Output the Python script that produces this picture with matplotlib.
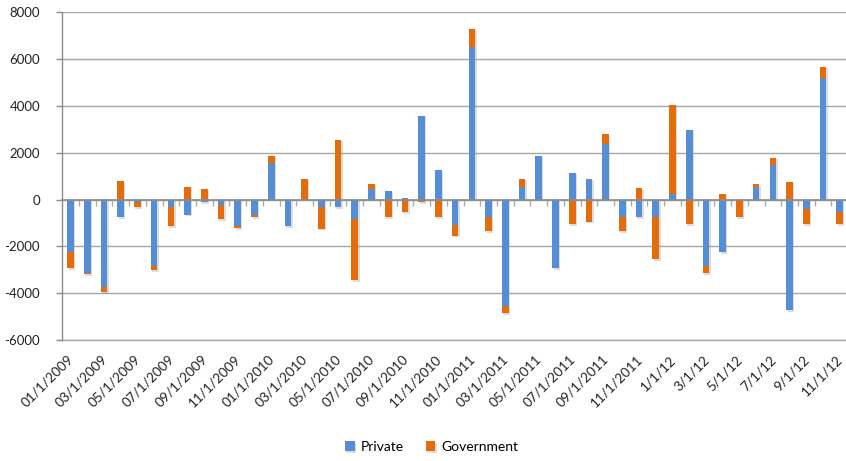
import numpy as np
import matplotlib
matplotlib.use("Agg")
import matplotlib.pyplot as plt
from matplotlib import patheffects as pe

plt.rcParams['font.family'] = ['Lato', 'DejaVu Sans']

# Monthly change by sector
months = [
    "01/1/2009", "02/1/2009", "03/1/2009", "04/1/2009", "05/1/2009", "06/1/2009",
    "07/1/2009", "08/1/2009", "09/1/2009", "10/1/2009", "11/1/2009", "12/1/2009",
    "01/1/2010", "02/1/2010", "03/1/2010", "04/1/2010", "05/1/2010", "06/1/2010",
    "07/1/2010", "08/1/2010", "09/1/2010", "10/1/2010", "11/1/2010", "12/1/2010",
    "01/1/2011", "02/1/2011", "03/1/2011", "04/1/2011", "05/1/2011", "06/1/2011",
    "07/1/2011", "08/1/2011", "09/1/2011", "10/1/2011", "11/1/2011", "12/1/2011",
    "1/1/12", "2/1/12", "3/1/12", "4/1/12", "5/1/12", "6/1/12",
    "7/1/12", "8/1/12", "9/1/12", "10/1/12", "11/1/12",
]

private = [
    -2247, -3144, -3741, -754, -115, -2845, -327, -640, -115, -228, -1124, -669,
    1565, -1124, 0, -327, -327, -825, 469, 356, 70, 3585, 1266, -1067,
    6501, -754, -4566, 541, 1878, -2945, 1152, 896, 2390, -754, -754, -754,
    256, 2987, -2845, -2262, 0, 541, 1465, -4737, -413, 5192, -526,
]

government = [
    -697, -30, -228, 782, -213, -185, -797, 555, 470, -597, -100, -85,
    313, 0, 896, -910, 2560, -2632, 213, -740, -525, -115, -754, -469,
    782, -597, -284, 356, 0, 0, -1053, -939, 398, -597, 484, -1792,
    3800, -1053, -299, 256, -754, 128, 327, 768, -640, 484, -526,
]

y_ticks = [-6000, -4000, -2000, 0, 2000, 4000, 6000, 8000]

BLUE = "#558ED5"
ORANGE = "#E46C0A"
GRID = "#A6A6A6"
AXIS = "#8C8C8C"

priv = np.array(private, dtype=float)
gov = np.array(government, dtype=float)
x = np.arange(len(months))

# positive values stack upward from zero, negatives downward (spreadsheet style)
gov_bottom = np.where(priv * gov > 0, priv, 0.0)

fig = plt.figure(figsize=(8.46, 4.61), dpi=100)
ax = fig.add_axes([0.0735, 0.2625, 0.929, 0.7108])

shadow = [pe.SimplePatchShadow(offset=(1.0, -1.2), shadow_rgbFace="#8f8f8f", alpha=0.3), pe.Normal()]

w = 0.4
b1 = ax.bar(x, priv, width=w, color=BLUE, label="Private", zorder=3)
b2 = ax.bar(x, gov, width=w, bottom=gov_bottom, color=ORANGE, label="Government", zorder=3)
for bars in (b1, b2):
    for p in bars:
        p.set_path_effects(shadow)

ax.set_xlim(-0.5, len(months) - 0.5)
ax.set_ylim(y_ticks[0], y_ticks[-1])
ax.set_yticks(y_ticks)
ax.set_yticklabels([str(v) for v in y_ticks])
ax.yaxis.grid(True, color=GRID, linewidth=1.0, zorder=0)
ax.set_axisbelow(True)

for s in ("top", "right"):
    ax.spines[s].set_visible(False)
ax.spines["left"].set_color(AXIS)
ax.spines["left"].set_linewidth(1.0)
ax.spines["bottom"].set_position(("data", 0))
ax.spines["bottom"].set_color(AXIS)
ax.spines["bottom"].set_linewidth(1.2)
ax.spines["bottom"].set_zorder(4)

ax.tick_params(axis="y", direction="out", length=4, width=1, color=AXIS,
               labelsize=9.5, pad=12, labelcolor="#222222")

# category boundaries carry the tick marks; labels go below the plot
ax.set_xticks(x[:-1] + 0.5, minor=True)
ax.set_xticks([])
ax.tick_params(axis="x", which="minor", direction="out", length=4, width=1, color="#ABABAB")

xform = ax.get_xaxis_transform()
for i in range(0, len(months), 2):
    ax.text(i - 0.2, -0.04, months[i], transform=xform, rotation=45,
            ha="right", va="top", rotation_mode="anchor",
            fontsize=9.8, color="#222222")

# the lowest gridline closes the plot area
ax.axhline(y_ticks[0], color=GRID, linewidth=1.0, zorder=1, clip_on=False)

fig.legend(handles=[b1, b2], labels=["Private", "Government"], loc="center",
           bbox_to_anchor=(0.51, 0.03), ncol=2, frameon=False,
           handlelength=0.7, handleheight=0.7, handletextpad=0.4,
           columnspacing=1.6, fontsize=10)

fig.savefig("out.png", dpi=100)
